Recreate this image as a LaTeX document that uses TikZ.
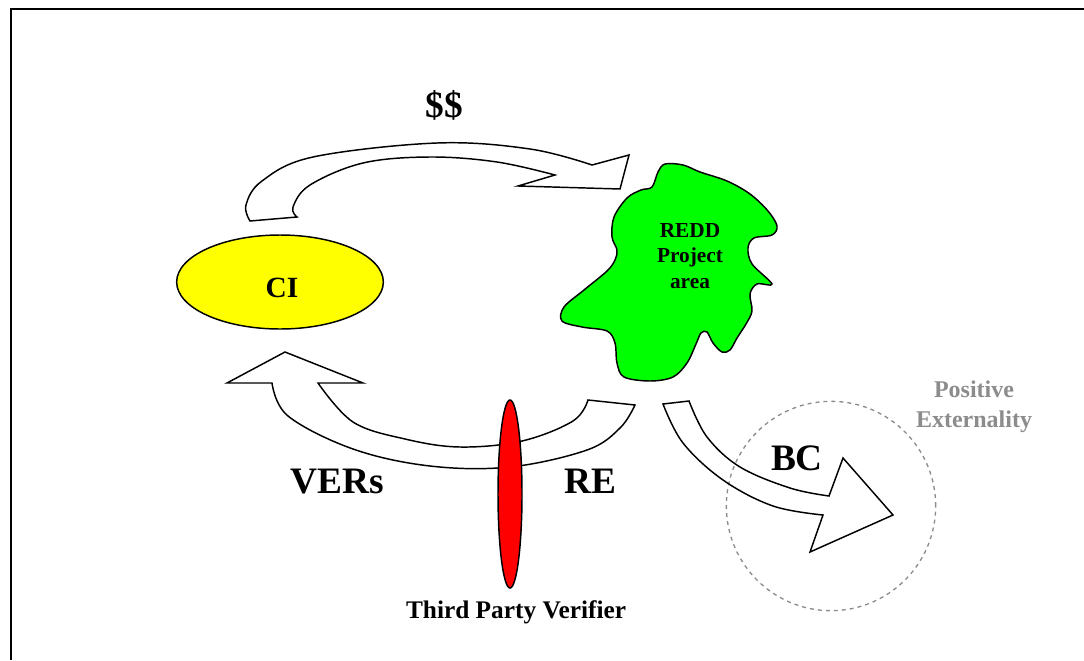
\documentclass[tikz,border=0pt]{standalone}
\usepackage{fontspec}
\setmainfont{Liberation Serif}
\usetikzlibrary{shapes.geometric}
\begin{document}
\begin{tikzpicture}[x=0.75pt,y=-0.75pt,
  blockarrow/.style={draw=black,line width=1.1pt,line join=miter},
  lbl/.style={font=\bfseries\fontsize{28}{34}\selectfont,inner sep=0pt,anchor=base},
  frameline/.style={line width=1.5pt,black}]
\useasboundingbox (0,0) rectangle (1084,660);
% frame
\coordinate (fl) at (11,660);
\coordinate (fc) at (11,9);
\coordinate (fr) at (1084,9);
\draw[frameline] (fl) -- (fc) -- (fr);
% dashed circle
\node[circle,draw=gray!90,dashed,line width=1pt,minimum size=157pt,inner sep=0pt] (ext) at (831,506) {};
\node[font=\bfseries\fontsize{18}{22}\selectfont,text=gray!90,align=center,inner sep=0pt,anchor=base] (exttxt) at (974,427) {Positive\\Externality};
% top arrow ($$)
\draw[blockarrow,fill=white]
  plot[smooth,tension=0.6] coordinates {(250,221) (246,205) (262,181) (313,157) (437,143) (530,149) (592,165)}
  -- (629,155) -- (620,189) -- (518,186) -- (555,175)
  -- plot[smooth,tension=0.6] coordinates {(555,175) (497,162) (430,157) (363,163) (310,185) (293,207) (297,217)}
  -- cycle;
% bottom arrow (VERs / RE)
\draw[blockarrow,fill=white]
  plot[smooth,tension=0.6] coordinates {(272,383) (288,416) (353,449) (430,466) (510,467) (587,450) (620,428) (635,405)}
  -- (588,400)
  -- plot[smooth,tension=0.6] coordinates {(588,400) (573,421) (522,441) (460,447) (405,439) (353,422) (318,383)}
  -- (363,383) -- (285,352) -- (227,383) -- cycle;
% BC arrow
\draw[blockarrow]
  plot[smooth,tension=0.6] coordinates {(663,404) (683,443) (723,480) (773,506) (823,515)}
  -- (810,552) -- (893,515) -- (843,458) -- (829,496)
  -- plot[smooth,tension=0.6] coordinates {(829,496) (790,488) (740,467) (707,437) (689,401)}
  -- cycle;
% green blob
\draw[line width=1.1pt,fill={rgb,255:red,0;green,255;blue,0}]
  plot[smooth cycle,tension=0.55] coordinates {
  (665,164) (683,165) (700,172) (727,181) (750,194) (768,211) (777,226) (772,235)
  (754,238) (748,248) (752,264) (772,284) (757,284) (750,294) (752,311) (746,324)
  (737,338) (730,350) (722,352) (713,343) (707,332) (701,333) (696,344) (687,363)
  (673,377) (650,381) (624,377) (617,363) (615,343) (607,331) (582,327) (562,321)
  (564,307) (584,290) (607,271) (615,260) (617,250) (612,237) (614,217) (627,198)
  (641,190) (652,187) (658,172)};
\node[font=\bfseries\fontsize{16}{19}\selectfont,align=center,inner sep=0pt,anchor=base] (redd) at (690,288) {REDD\\Project\\area};
% CI ellipse
\node[ellipse,draw,line width=1.1pt,fill={rgb,255:red,255;green,255;blue,0},minimum width=155pt,minimum height=70.5pt,inner sep=0pt] (ci) at (280,282) {};
\node[font=\bfseries\fontsize{22}{26}\selectfont,inner sep=0pt,anchor=base] (citxt) at (282,297) {CI};
% verifier ellipse
\node[ellipse,draw,line width=1.1pt,fill={rgb,255:red,255;green,0;blue,0},minimum width=18pt,minimum height=141pt,inner sep=0pt] (tpv) at (510,494) {};
\node[font=\bfseries\fontsize{19}{23}\selectfont,inner sep=0pt,anchor=base] (tpvtxt) at (516,618) {Third Party Verifier};
% labels
\node[lbl] (dd) at (444,117) {\$\$};
\node[lbl] (vers) at (337,493) {VERs};
\node[lbl] (re) at (590,493) {RE};
\node[lbl] (bc) at (797,470) {BC};
\end{tikzpicture}
\end{document}
